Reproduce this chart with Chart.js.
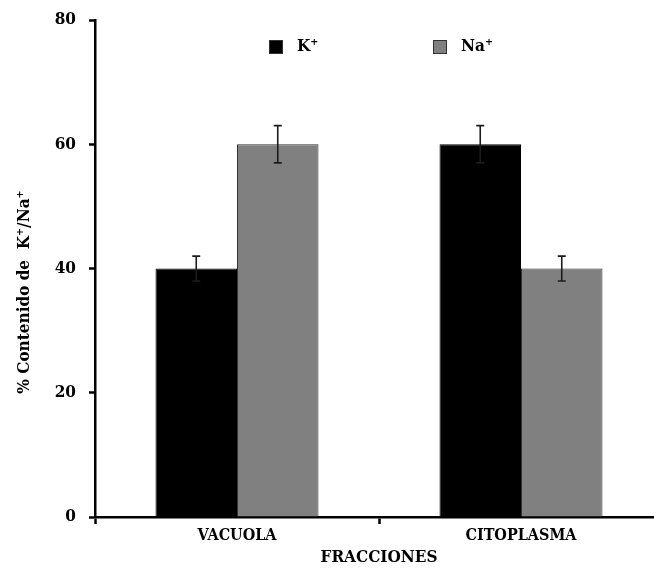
<!DOCTYPE html>
<html>
<head>
<meta charset="utf-8">
<script src="https://cdn.jsdelivr.net/npm/chart.js@4/dist/chart.umd.min.js"></script>
<style>
  html, body { margin: 0; padding: 0; background: #fff; overflow: hidden; }
  #wrap { width: 670px; height: 568px; }
</style>
</head>
<body>
<div id="wrap"><canvas id="grafico"></canvas></div>
<script>
// datos del gráfico
const categorias = ["VACUOLA", "CITOPLASMA"];
const valoresK = [40, 60];
const valoresNa = [60, 40];
const erroresK = [2, 3];
const erroresNa = [3, 2];
const ticksY = [0, 20, 40, 60, 80];

const fuente = "'DejaVu Serif Condensed', 'DejaVu Serif', serif";

// barras de error dibujadas con las escalas del gráfico
const barrasError = {
  id: "barrasError",
  afterDatasetsDraw(chart) {
    const ctx = chart.ctx;
    const y = chart.scales.y;
    chart.data.datasets.forEach((ds, i) => {
      const meta = chart.getDatasetMeta(i);
      meta.data.forEach((bar, j) => {
        const v = ds.data[j], e = ds.errores[j];
        const yTop = y.getPixelForValue(v + e);
        const yBot = y.getPixelForValue(v - e);
        ctx.save();
        ctx.strokeStyle = "#1c1c1c";
        ctx.lineWidth = 1.6;
        ctx.beginPath();
        ctx.moveTo(bar.x, yTop); ctx.lineTo(bar.x, yBot);
        ctx.moveTo(bar.x - 4, yTop); ctx.lineTo(bar.x + 4, yTop);
        ctx.moveTo(bar.x - 4, yBot); ctx.lineTo(bar.x + 4, yBot);
        ctx.stroke();
        ctx.restore();
      });
    });
  }
};

// leyenda y título del eje Y
const textos = {
  id: "textos",
  afterDraw(chart) {
    const ctx = chart.ctx;
    const area = chart.chartArea;
    ctx.save();
    ctx.font = "bold 17px " + fuente;
    ctx.textBaseline = "middle";
    ctx.fillStyle = "#000";
    const posiciones = [area.left + 174, area.left + 338];
    chart.data.datasets.forEach((ds, i) => {
      const x = posiciones[i];
      ctx.fillStyle = ds.backgroundColor;
      ctx.fillRect(x, 40, 14, 14);
      ctx.strokeStyle = "#333";
      ctx.lineWidth = 1;
      ctx.strokeRect(x + 0.5, 40.5, 13, 13);
      ctx.fillStyle = "#000";
      ctx.fillText(ds.label, x + 28, 47);
    });
    // título eje Y
    ctx.font = "bold 17px " + fuente;
    ctx.translate(25, 292);
    ctx.rotate(-Math.PI / 2);
    ctx.textAlign = "center";
    ctx.fillText("% Contenido de  K⁺/Na⁺", 0, 0);
    ctx.restore();
  }
};

new Chart(document.getElementById("grafico"), {
  type: "bar",
  data: {
    labels: categorias,
    datasets: [
      {
        label: "K⁺",
        data: valoresK,
        errores: erroresK,
        backgroundColor: "#000000",
        borderColor: "#000000",
        borderWidth: 1,
      },
      {
        label: "Na⁺",
        data: valoresNa,
        errores: erroresNa,
        backgroundColor: "#808080",
        borderColor: "#333333",
        borderWidth: 1,
      },
    ],
  },
  options: {
    responsive: true,
    maintainAspectRatio: false,
    animation: false,
    layout: { padding: { top: 20, right: 7, bottom: 0, left: 0 } },
    datasets: { bar: { categoryPercentage: 0.574, barPercentage: 1 } },
    plugins: { legend: { display: false }, tooltip: { enabled: false } },
    scales: {
      x: {
        grid: { display: true, drawOnChartArea: false, tickLength: 7, tickColor: "#000", tickWidth: 2.5 },
        border: { color: "#000", width: 2.5 },
        ticks: { color: "#000", padding: 2, font: { family: fuente, weight: "bold", size: 16 } },
        title: { display: true, text: "FRACCIONES", color: "#000", padding: 0, font: { family: fuente, weight: "bold", size: 17 } },
        afterFit(scale) { scale.height = 51; },
      },
      y: {
        min: 0,
        max: 80,
        afterBuildTicks(scale) { scale.ticks = ticksY.map((v) => ({ value: v })); },
        grid: { display: true, drawOnChartArea: false, tickLength: 6, tickColor: "#000", tickWidth: 2.5 },
        border: { color: "#000", width: 2.5 },
        ticks: { color: "#000", padding: 13, font: { family: fuente, weight: "bold", size: 17 } },
        afterFit(scale) {
          scale.width = 95;
          scale.paddingTop = 10;
          scale.paddingBottom = 10;
        },
      },
    },
  },
  plugins: [barrasError, textos],
});
</script>
</body>
</html>
